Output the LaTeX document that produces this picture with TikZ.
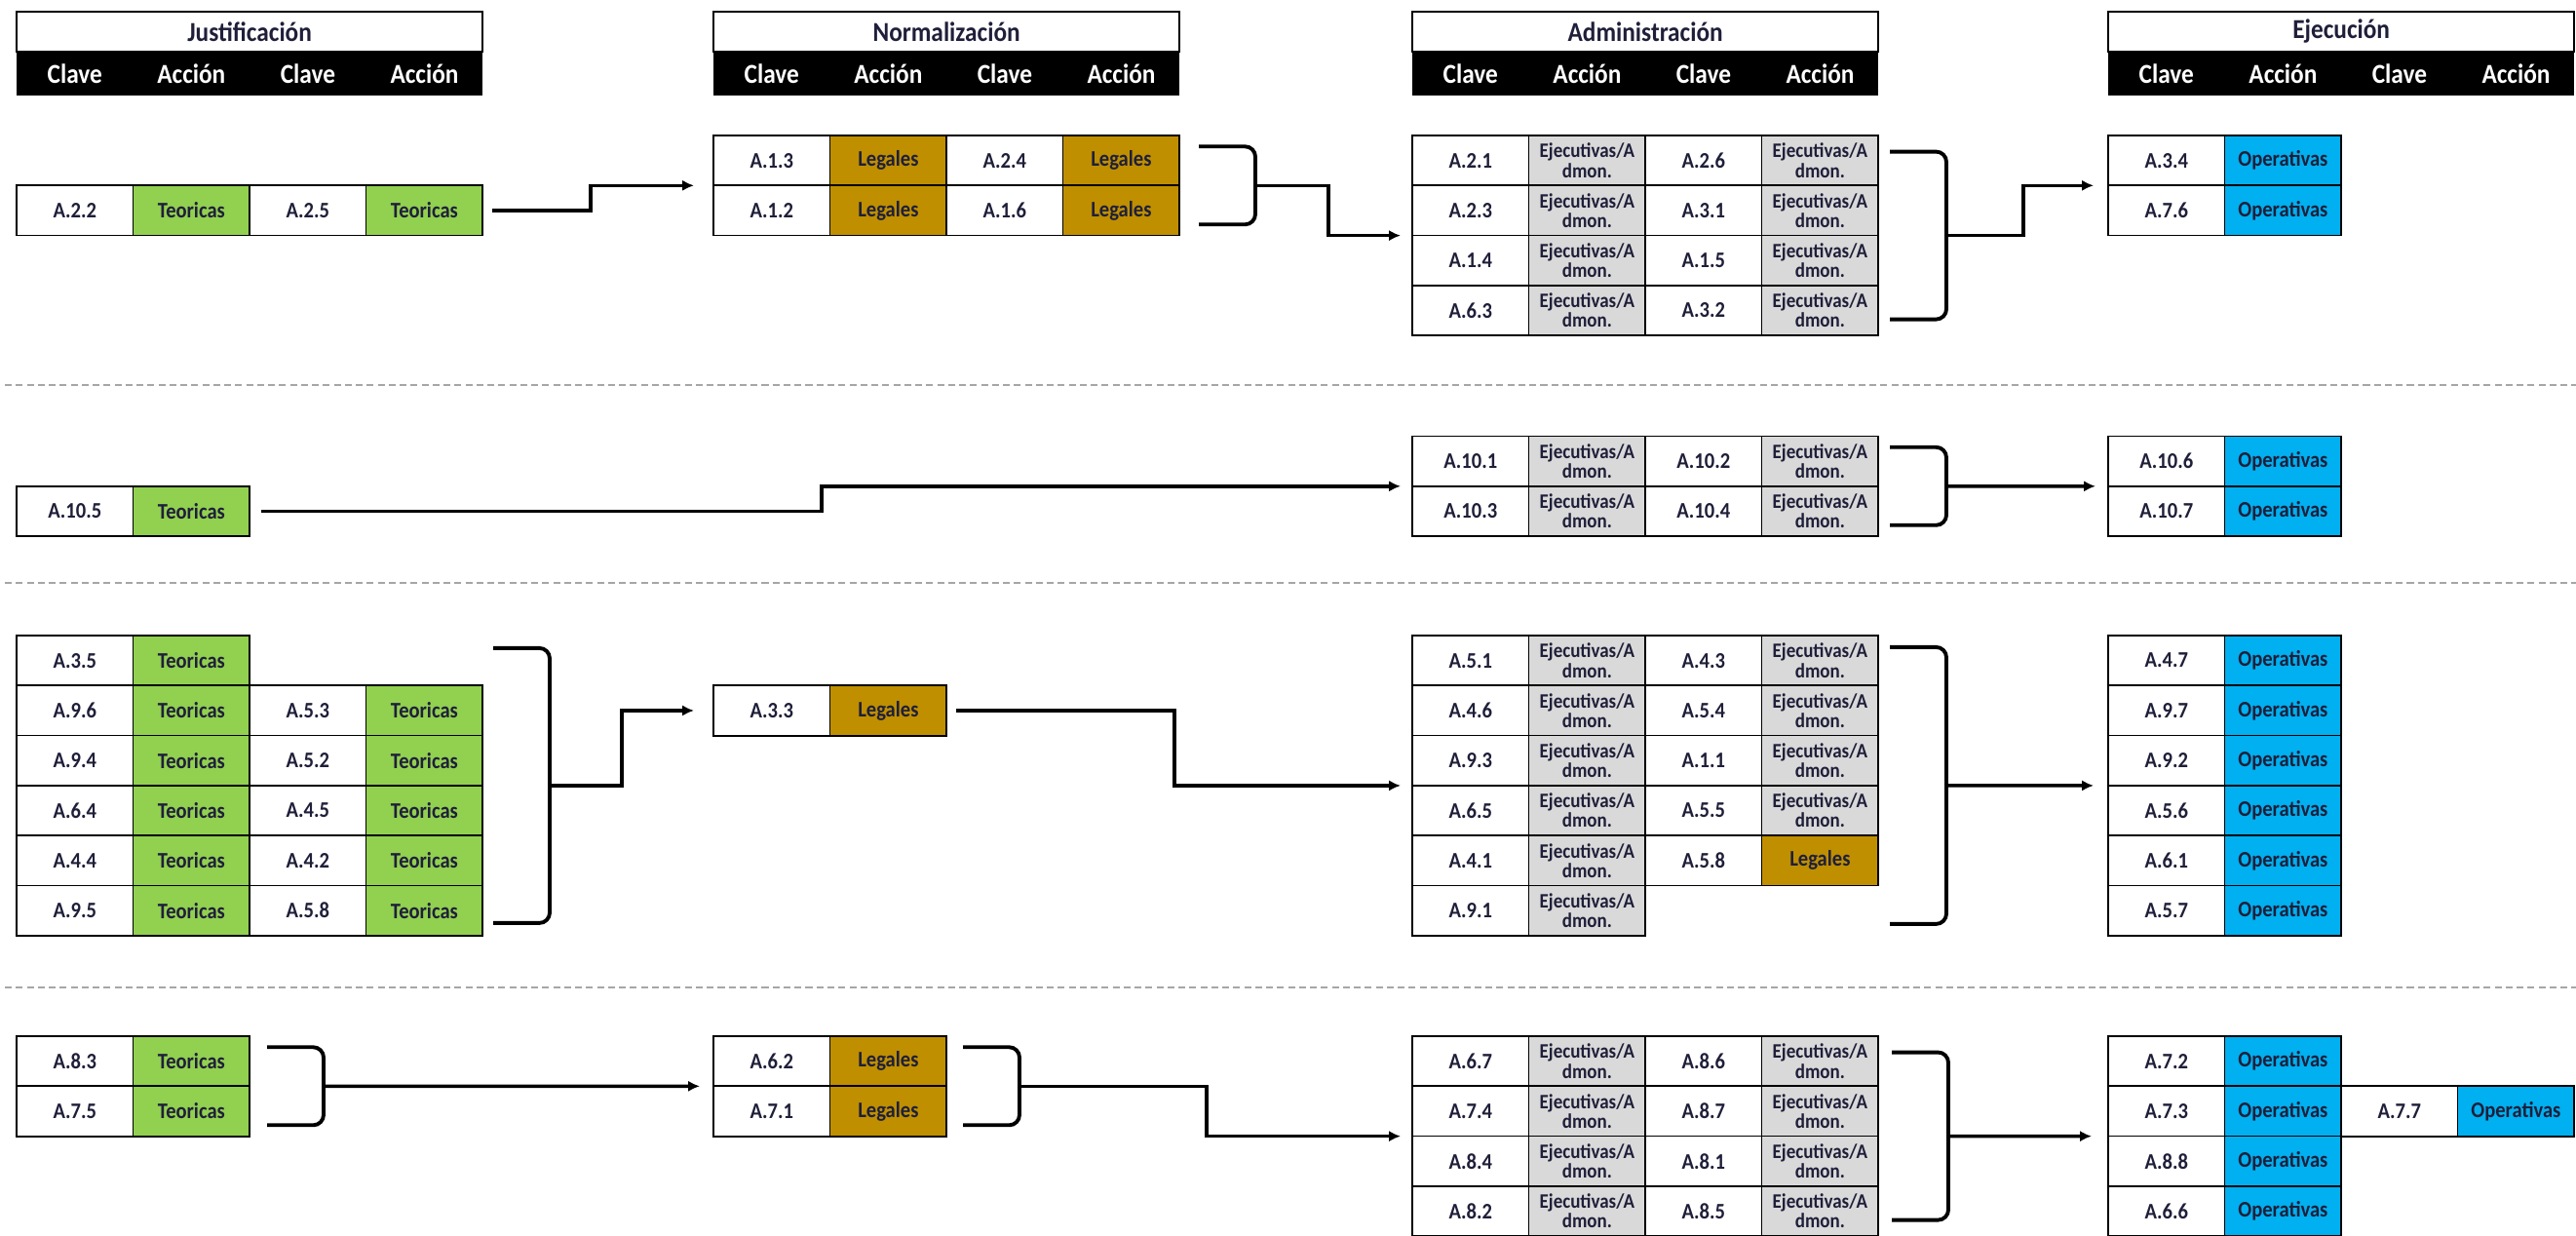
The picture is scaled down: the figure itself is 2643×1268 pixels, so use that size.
\documentclass[tikz,border=0pt]{standalone}
\usepackage{fontspec}
\setmainfont{Carlito}[FakeStretch=0.9]
\definecolor{verde}{HTML}{92D050}
\definecolor{oro}{HTML}{BF8F00}
\definecolor{gris}{HTML}{D9D9D9}
\definecolor{azul}{HTML}{00B0F0}
\definecolor{tinta}{HTML}{1F1F3A}
\definecolor{corte}{HTML}{A6A6A6}
\usetikzlibrary{arrows.meta,positioning,calc}

\newcommand{\letracelda}{\fontsize{6.5}{6}\selectfont\bfseries}
\newcommand{\letraejec}{\fontsize{6}{5.7}\selectfont\bfseries\lineskiplimit=-10pt}
\newcommand{\letracab}{\fontsize{8}{9}\selectfont\bfseries}
\newcommand{\txtteo}{Teoricas}
\newcommand{\txtleg}{Legales}
\newcommand{\txtejec}{Ejecutivas/A\\dmon.}
\newcommand{\txtoper}{Operativas}

\newcommand{\pareja}[5]{%
  \node[clave, anchor=north west] (#1) at (#2,#3) {#4};
  \node[#5, right=0pt of #1] (#1-x) {\csname txt#5\endcsname};}

\newcommand{\encabezado}[3]{%
  \node[titulo, anchor=north west] (#1) at (#2,12) {#3};
  \node[barra, anchor=north west] (#1-1) at (#1.south west) {Clave};
  \node[barra, right=0pt of #1-1] (#1-2) {Acción};
  \node[barra, right=0pt of #1-2] (#1-3) {Clave};
  \node[barra, right=0pt of #1-3] (#1-4) {Acción};}

\newcommand{\llave}[4]{%
  \draw[corchete] (#2-58,#3-#4) -- (#2,#3-#4) -- (#2,#3+#4) -- (#2-58,#3+#4);
  \coordinate (#1) at (#2,#3);}

\begin{document}
\begin{tikzpicture}[x=0.01cm, y=-0.01cm,
    celda/.style={draw, line width=0.5pt, minimum width=1.195cm, minimum height=0.513cm,
      inner sep=0pt, outer sep=0pt, text=tinta, font=\letracelda},
    clave/.style={celda, fill=white},
    teo/.style={celda, fill=verde},
    leg/.style={celda, fill=oro},
    ejec/.style={celda, fill=gris, align=center, font=\letraejec},
    oper/.style={celda, fill=azul},
    titulo/.style={draw, line width=0.5pt, minimum width=4.78cm, minimum height=0.41cm,
      inner sep=0pt, outer sep=0pt, text=tinta, font=\letracab},
    barra/.style={fill=black, minimum width=1.195cm, minimum height=0.45cm,
      inner sep=0pt, outer sep=0pt, text=white, font=\letracab},
    corchete/.style={line width=1.1pt, rounded corners=3pt},
    flecha/.style={line width=1pt, -{Latex[length=3.4pt,width=3.2pt]}},
    separa/.style={corte, line width=0.6pt, dash pattern=on 2pt off 1.2pt}]
    \useasboundingbox (0,0) rectangle (2643,1268);

    \encabezado{hJ}{17}{Justificación}
    \encabezado{hN}{732}{Normalización}
    \encabezado{hA}{1449}{Administración}
    \encabezado{hE}{2163}{Ejecución}

    \pareja{J1-1}{17}{190.3}{A.2.2}{teo}
    \pareja{J1-1-r}{256}{190.3}{A.2.5}{teo}
    \pareja{N1-0}{732}{139}{A.1.3}{leg}
    \pareja{N1-0-r}{971}{139}{A.2.4}{leg}
    \pareja{N1-1}{732}{190.3}{A.1.2}{leg}
    \pareja{N1-1-r}{971}{190.3}{A.1.6}{leg}
    \foreach \ca/\cb [count=\i from 0] in {A.2.1/A.2.6, A.2.3/A.3.1, A.1.4/A.1.5, A.6.3/A.3.2}{
      \pareja{A1-\i}{1449}{139+\i*51.3}{\ca}{ejec}
      \pareja{A1-\i-r}{1688}{139+\i*51.3}{\cb}{ejec}}
    \pareja{E1-0}{2163}{139}{A.3.4}{oper}
    \pareja{E1-1}{2163}{190.3}{A.7.6}{oper}

    \pareja{J2-1}{17}{498.8}{A.10.5}{teo}
    \pareja{A2-0}{1449}{447.5}{A.10.1}{ejec}
    \pareja{A2-0-r}{1688}{447.5}{A.10.2}{ejec}
    \pareja{A2-1}{1449}{498.8}{A.10.3}{ejec}
    \pareja{A2-1-r}{1688}{498.8}{A.10.4}{ejec}
    \pareja{E2-0}{2163}{447.5}{A.10.6}{oper}
    \pareja{E2-1}{2163}{498.8}{A.10.7}{oper}

    \pareja{J3-0}{17}{652}{A.3.5}{teo}
    \foreach \ca/\cb [count=\i from 1] in {A.9.6/A.5.3, A.9.4/A.5.2, A.6.4/A.4.5, A.4.4/A.4.2, A.9.5/A.5.8}{
      \pareja{J3-\i}{17}{652+\i*51.3}{\ca}{teo}
      \pareja{J3-\i-r}{256}{652+\i*51.3}{\cb}{teo}}
    \pareja{N3-1}{732}{703.3}{A.3.3}{leg}
    \foreach \ca/\cb [count=\i from 0] in {A.5.1/A.4.3, A.4.6/A.5.4, A.9.3/A.1.1, A.6.5/A.5.5}{
      \pareja{A3-\i}{1449}{652+\i*51.3}{\ca}{ejec}
      \pareja{A3-\i-r}{1688}{652+\i*51.3}{\cb}{ejec}}
    \pareja{A3-4}{1449}{857.2}{A.4.1}{ejec}
    \pareja{A3-4-r}{1688}{857.2}{A.5.8}{leg}
    \pareja{A3-5}{1449}{908.5}{A.9.1}{ejec}
    \foreach \c [count=\i from 0] in {A.4.7, A.9.7, A.9.2, A.5.6, A.6.1, A.5.7}
      {\pareja{E3-\i}{2163}{652+\i*51.3}{\c}{oper}}

    \pareja{J4-0}{17}{1063}{A.8.3}{teo}
    \pareja{J4-1}{17}{1114.3}{A.7.5}{teo}
    \pareja{N4-0}{732}{1063}{A.6.2}{leg}
    \pareja{N4-1}{732}{1114.3}{A.7.1}{leg}
    \foreach \ca/\cb [count=\i from 0] in {A.6.7/A.8.6, A.7.4/A.8.7, A.8.4/A.8.1, A.8.2/A.8.5}{
      \pareja{A4-\i}{1449}{1063+\i*51.3}{\ca}{ejec}
      \pareja{A4-\i-r}{1688}{1063+\i*51.3}{\cb}{ejec}}
    \foreach \c [count=\i from 0] in {A.7.2, A.7.3, A.8.8, A.6.6}
      {\pareja{E4-\i}{2163}{1063+\i*51.3}{\c}{oper}}
    \pareja{E4-1-r}{2402}{1114.3}{A.7.7}{oper}

    \llave{bN1}{1288}{190.3}{40}
    \llave{bA1}{1997}{241.6}{86}
    \llave{bA2}{1997}{498.8}{40}
    \llave{bJ3}{564}{805.9}{141}
    \llave{bA3}{1997}{805.9}{142}
    \llave{bJ4}{332}{1114.3}{40}
    \llave{bN4}{1046}{1114.3}{40}
    \llave{bA4}{1999}{1165.6}{86}

    \draw[flecha] ($(J1-1-r-x.east)+(10,0)$) -- ++(101,0) |- ($(N1-0.south west)+(-20,0)$);
    \draw[flecha] (bN1) -- ++(75,0) |- ($(A1-1.south west)+(-12,0)$);
    \draw[flecha] (bA1) -- ++(79,0) |- ($(E1-0.south west)+(-15,0)$);
    \draw[flecha] ($(J2-1-x.east)+(12,0)$) -- ++(575,0) |- ($(A2-0.south west)+(-12,0)$);
    \draw[flecha] (bA2) -- ($(E2-0.south west)+(-13,0)$);
    \draw[flecha] (bJ3) -- ++(74,0) |- ($(N3-1.west)+(-20,0)$);
    \draw[flecha] ($(N3-1-x.east)+(10,0)$) -- ++(224,0) |- ($(A3-2.south west)+(-12,0)$);
    \draw[flecha] (bA3) -- ($(E3-2.south west)+(-15,0)$);
    \draw[flecha] (bJ4) -- ($(N4-0.south west)+(-14,0)$);
    \draw[flecha] (bN4) -- ++(192,0) |- ($(A4-1.south west)+(-12,0)$);
    \draw[flecha] (bA4) -- ($(E4-1.south west)+(-17,0)$);

    \draw[separa] (5,395) -- (2643,395);
    \draw[separa] (5,598) -- (2643,598);
    \draw[separa] (5,1013) -- (2643,1013);
\end{tikzpicture}
\end{document}
